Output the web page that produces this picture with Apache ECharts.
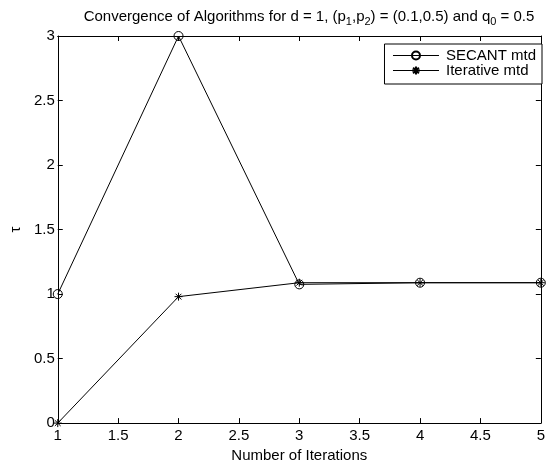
<!DOCTYPE html>
<html><head><meta charset="utf-8">
<script src="https://cdn.jsdelivr.net/npm/echarts@6/dist/echarts.min.js"></script>
<style>html,body{margin:0;padding:0;background:#fff}#c{width:548px;height:468px}</style>
</head><body><div id="c"></div>
<script>
var iterations = [1, 2, 3, 4, 5];
var secant = [1.0, 3.0, 1.075, 1.088, 1.088];
var iterative = [0.0, 0.98, 1.088, 1.088, 1.088];
var xTicks = [1, 1.5, 2, 2.5, 3, 3.5, 4, 4.5, 5];
var yTicks = [0, 0.5, 1, 1.5, 2, 2.5, 3];
var seriesNames = ['SECANT mtd', 'Iterative mtd'];

var FONT = 'Liberation Sans, Arial, sans-serif';
var FS = 15;
var star = 'path://M0,-5L0,5M-5,0L5,0M-3.6,-3.6L3.6,3.6M-3.6,3.6L3.6,-3.6';
function pairs(ys){ return iterations.map(function(x,i){ return [x, ys[i]]; }); }
function fmt(v){ return String(v); }

var chart = echarts.init(document.getElementById('c'), null, {renderer:'canvas'});
chart.setOption({
  animation: false,
  backgroundColor: '#fff',
  title: {
    text: 'Convergence of Algorithms for d = 1, (p{s|1},p{s|2}) = (0.1,0.5) and q{s|0} = 0.5',
    left: 304, textAlign: 'center', top: 2,
    textStyle: {
      fontFamily: FONT, fontSize: FS, fontWeight: 'normal', color: '#000',
      rich: { s: { fontFamily: FONT, fontSize: 11, color: '#000', verticalAlign: 'bottom', padding: [9,0,0,0] } }
    }
  },
  grid: { left: 56, right: 0, top: 36, bottom: 43, containLabel: false },
  legend: {
    right: 6, top: 44, orient: 'vertical',
    data: seriesNames,
    itemWidth: 46, itemHeight: 10, itemGap: 0,
    padding: [4, 6, 6, 8],
    borderColor: '#000', borderWidth: 1, backgroundColor: '#fff',
    lineStyle: { width: 1 },
    textStyle: { fontFamily: FONT, fontSize: FS, color: '#000', lineHeight: 15, padding: [0,0,0,2] }
  },
  xAxis: [{
    type: 'value', min: 1, max: 5, interval: 0.5, position: 'bottom',
    name: 'Number of Iterations', nameLocation: 'middle', nameGap: 23,
    nameTextStyle: { fontFamily: FONT, fontSize: FS, color: '#000' },
    axisLine: { show: true, onZero: false, lineStyle: { color: '#000', width: 1 } },
    axisTick: { show: true, inside: true, length: 5, lineStyle: { color: '#000' } },
    axisLabel: { fontFamily: FONT, fontSize: FS, color: '#000', margin: 5, formatter: fmt },
    splitLine: { show: false }
  }, {
    type: 'value', min: 1, max: 5, interval: 0.5, position: 'top',
    axisLine: { show: true, onZero: false, lineStyle: { color: '#000', width: 1 } },
    axisTick: { show: true, inside: true, length: 5, lineStyle: { color: '#000' } },
    axisLabel: { show: false }, splitLine: { show: false }
  }],
  yAxis: [{
    type: 'value', min: 0, max: 3, interval: 0.5, position: 'left',
    name: 'τ', nameLocation: 'middle', nameGap: 31, nameRotate: 90,
    nameTextStyle: { fontFamily: FONT, fontSize: FS, color: '#000' },
    axisLine: { show: true, onZero: false, lineStyle: { color: '#000', width: 1 } },
    axisTick: { show: true, inside: true, length: 5, lineStyle: { color: '#000' } },
    axisLabel: { fontFamily: FONT, fontSize: FS, color: '#000', margin: 3, formatter: fmt },
    splitLine: { show: false }
  }, {
    type: 'value', min: 0, max: 3, interval: 0.5, position: 'right',
    axisLine: { show: true, onZero: false, lineStyle: { color: '#000', width: 1 } },
    axisTick: { show: true, inside: true, length: 5, lineStyle: { color: '#000' } },
    axisLabel: { show: false }, splitLine: { show: false }
  }],
  series: [{
    name: seriesNames[0], type: 'line', data: pairs(secant),
    symbol: 'circle', symbolSize: 9, showAllSymbol: true,
    lineStyle: { color: '#000', width: 1 },
    itemStyle: { color: 'rgba(0,0,0,0)', borderColor: '#000', borderWidth: 1 },
    clip: false, z: 2
  }, {
    name: seriesNames[1], type: 'line', data: pairs(iterative),
    symbol: star, symbolSize: 8, showAllSymbol: true,
    lineStyle: { color: '#000', width: 1 },
    itemStyle: { color: 'rgba(0,0,0,0)', borderColor: '#000', borderWidth: 1 },
    clip: false, z: 3
  }]
});
</script></body></html>
